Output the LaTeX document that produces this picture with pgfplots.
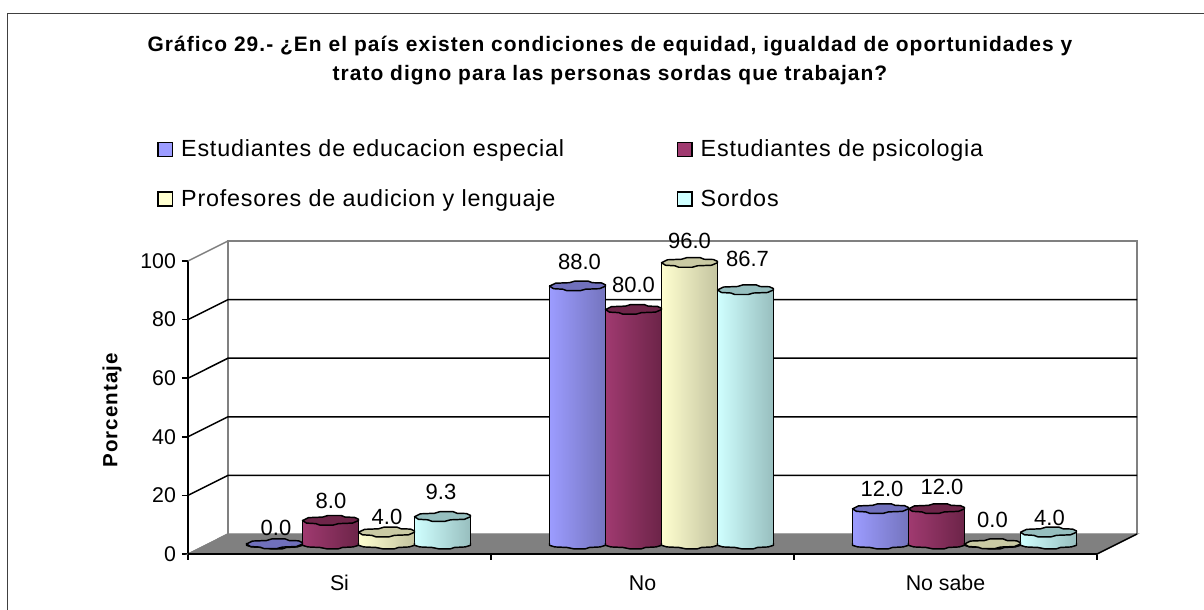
\documentclass[border=0pt]{standalone}
\usepackage{pgfplots}
\pgfplotsset{compat=1.18}
\usepackage{pgfplotstable}
\usepackage{fontspec}
\setmainfont{Liberation Sans}
\newfontfamily\legfont[LetterSpace=3.5]{Liberation Sans}
\newfontfamily\titfont[LetterSpace=5]{Liberation Sans}
\definecolor{cAl}{HTML}{9C9CFF}\definecolor{cAr}{HTML}{7474BE}\definecolor{cAt}{HTML}{7070BC}
\definecolor{cBl}{HTML}{A03A70}\definecolor{cBr}{HTML}{6C2448}\definecolor{cBt}{HTML}{6E2549}
\definecolor{cCl}{HTML}{FFFFD0}\definecolor{cCr}{HTML}{C4C4A0}\definecolor{cCt}{HTML}{CACAA4}
\definecolor{cDl}{HTML}{CFFFFF}\definecolor{cDr}{HTML}{98BEBE}\definecolor{cDt}{HTML}{96BFBF}
\definecolor{floorc}{HTML}{808080}
% 1 px of the reference = 0.75pt
\newcommand\defcyl[1]{%
  \pgfdeclareplotmark{top#1}{%
    \path[draw=black,line width=1.1pt,line join=round,fill=c#1t]
      (-21pt,0pt)--(-16.5pt,2.2pt)--(-6pt,2.6pt)--(-2pt,3.8pt)--(8pt,3.8pt)--(11pt,2.6pt)--(18pt,2.4pt)--(21pt,1pt)
      --(21pt,0pt)--(16.5pt,-1.9pt)--(6pt,-2.3pt)--(2pt,-3.4pt)--(-8pt,-3.4pt)--(-11pt,-2.3pt)--(-18pt,-1.9pt)--cycle;}%
  \pgfdeclareplotmark{bot#1}{%
    \path[left color=c#1l,right color=c#1r]
      (-21pt,.8pt)--(-21pt,-1pt)--(-17pt,-2.2pt)--(-8pt,-2.6pt)--(-3pt,-3.6pt)--(6pt,-3.6pt)--(9pt,-2.6pt)--(17pt,-2.2pt)--(21pt,-1pt)--(21pt,.8pt)--cycle;
    \path[draw=black,line width=1.1pt,line join=round]
      (-21pt,.8pt)--(-21pt,-1pt)--(-17pt,-2.2pt)--(-8pt,-2.6pt)--(-3pt,-3.6pt)--(6pt,-3.6pt)--(9pt,-2.6pt)--(17pt,-2.2pt)--(21pt,-1pt)--(21pt,.8pt);}%
}
\defcyl{A}\defcyl{B}\defcyl{C}\defcyl{D}
% x, value, and the place of the value's label (lx, ly)
\pgfplotstableread{
x y lx ly
0.2228 0.0 0.2278 5.46
1.2228 88.0 1.2294 96.19
2.2228 12.0 2.2278 18.83
}\serA
\pgfplotstableread{
x y lx ly
0.4076 8.0 0.4093 14.83
1.4076 80.0 1.4076 88.4
2.4076 12.0 2.4258 19.51
}\serB
\pgfplotstableread{
x y lx ly
0.5924 4.0 0.5941 9.12
1.5924 96.0 1.5924 103.51
2.5924 0.0 2.5924 8.19
}\serC
\pgfplotstableread{
x y lx ly
0.7772 9.3 0.7722 17.83
1.7772 86.7 1.7838 97.28
2.7772 4.0 2.7805 8.78
}\serD
\newcommand\bodyof[3]{%
  \addplot[forget plot,ybar,bar shift=0pt,bar width=42pt,draw=black,line width=1.1pt,left color=c#1l,right color=c#1r,
     restrict y to domain=0.01:200,restrict x to domain=#3] table[x=x,y=y] {#2};
}
\newcommand\cylinder[2]{%
  \bodyof{#1}{#2}{0:1}\bodyof{#1}{#2}{1:2}\bodyof{#1}{#2}{2:3}
  \addplot[forget plot,draw=none,mark=bot#1,only marks] table[x=x,y expr=0] {#2};
  \addplot[forget plot,draw=none,mark=top#1,only marks] table[x=x,y=y] {#2};
}
\newcommand\datalabels[1]{%
  \addplot[forget plot,draw=none,mark=none,
    point meta=explicit,
    nodes near coords={\pgfmathprintnumber[fixed,fixed zerofill,precision=1,assume math mode=true]{\pgfplotspointmeta}},
    every node near coord/.style={anchor=center,inner sep=0pt,font=\fontsize{16.5pt}{18pt}\selectfont,black}]
    table[x=lx,y=ly,meta=y] {#1};
}
\newcommand\swatch[1]{\addlegendimage{legend image code/.code={\draw[black,line width=1.1pt,fill=c#1l] (0pt,-5.2pt) rectangle (10.8pt,5.2pt);}}}
\begin{document}
\begin{tikzpicture}
\useasboundingbox (0,0) rectangle (903pt,457.5pt);
\fill[white] (0,0) rectangle (903pt,457.5pt);
\draw[black!75,line width=0.8pt] (5.5pt,0)--(5.5pt,447.5pt)--(903pt,447.5pt);
\begin{axis}[
  at={(141pt,42pt)},anchor=south west,scale only axis,width=681.75pt,height=219.75pt,
  xmin=0,xmax=3,ymin=0,ymax=100,clip=false,
  axis x line*=bottom,axis y line*=left,
  axis line style={black,line width=1.1pt,-},
  xtick={0.5,1.5,2.5},xticklabels={Si,No,No sabe},
  minor xtick={0,1,2,3},
  ytick={0,20,40,60,80,100},
  major tick length=4.5pt,minor tick length=4.5pt,
  tick style={black,line width=1.1pt},
  x tick style={draw=none},
  minor x tick style={draw=black,line width=1.1pt},
  tick align=outside,
  ticklabel style={font=\fontsize{16pt}{18pt}\selectfont},
  /pgf/number format/assume math mode=true,
  xticklabel style={yshift=-8pt},
  yticklabel style={xshift=-1pt},
  every axis y label/.style={at={(axis description cs:-0.0836,0.49)},anchor=center,rotate=90},
  ylabel={\titfont\bfseries\fontsize{15.4pt}{16pt}\selectfont Porcentaje},
  legend style={at={(axis description cs:-0.0341,1.296)},anchor=west,draw=none,fill=none,inner sep=0pt,
    legend columns=2,row sep=23pt,
    nodes={inner sep=0pt,font=\legfont\fontsize{17.5pt}{18pt}\selectfont},
    /tikz/every odd column/.append style={column sep=6pt},
    /tikz/every even column/.append style={column sep=84.5pt}},
  legend cell align=left,
]
% floor and walls of the 3-D box
\addplot[forget plot,fill=floorc,draw=floorc,line width=1pt] coordinates {(0,0)(0.132,6.826)(3.132,6.826)(3,0)} --cycle;
\addplot[forget plot,draw=black!50,line width=1.1pt] coordinates {(0.132,6.826)(0.132,106.826)(3.132,106.826)(3.132,6.826)};
\addplot[forget plot,draw=black!50,line width=1.1pt] coordinates {(0,100)(0.132,106.826)};
\addplot[forget plot,draw=black!50,line width=1pt] coordinates {(0,0)(0.132,6.826)};
\addplot[forget plot,draw=black,line width=1.1pt] coordinates {(3,0)(3.132,6.826)};
\addplot[forget plot,draw=black,line width=1.1pt] coordinates {(0,20)(0.132,26.826)(3.132,26.826)};
\addplot[forget plot,draw=black,line width=1.1pt] coordinates {(0,40)(0.132,46.826)(3.132,46.826)};
\addplot[forget plot,draw=black,line width=1.1pt] coordinates {(0,60)(0.132,66.826)(3.132,66.826)};
\addplot[forget plot,draw=black,line width=1.1pt] coordinates {(0,80)(0.132,86.826)(3.132,86.826)};
\addplot[forget plot,draw=black,line width=1.1pt] coordinates {(0,0)(3,0)};
\swatch{A}\addlegendentry{Estudiantes de educacion especial}
\swatch{B}\addlegendentry{Estudiantes de psicologia}
\swatch{C}\addlegendentry{Profesores de audicion y lenguaje}
\swatch{D}\addlegendentry{Sordos}
\node[align=center,anchor=center,inner sep=0pt,font=\titfont\bfseries\fontsize{15.7pt}{22pt}\selectfont]
  at (axis description cs:0.4642,1.685)
  {Gráfico 29.- ¿En el país existen condiciones de equidad, igualdad de oportunidades y\\
   trato digno para las personas sordas que trabajan?};
\end{axis}
% the cylinders stand half way into the box
\begin{axis}[
  at={(155.25pt,49.5pt)},anchor=south west,scale only axis,width=681.75pt,height=219.75pt,
  xmin=0,xmax=3,ymin=0,ymax=100,clip=false,hide axis,
]
\cylinder{A}{\serA}
\cylinder{B}{\serB}
\cylinder{C}{\serC}
\cylinder{D}{\serD}
\datalabels{\serA}
\datalabels{\serB}
\datalabels{\serC}
\datalabels{\serD}
\end{axis}
\end{tikzpicture}
\end{document}
